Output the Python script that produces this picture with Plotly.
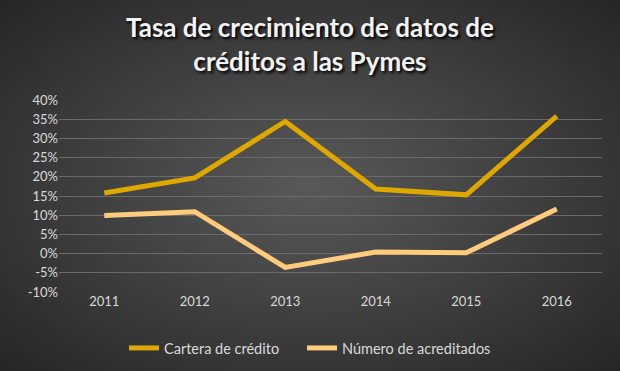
import base64
import plotly.graph_objects as go

years = ["2011", "2012", "2013", "2014", "2015", "2016"]
cartera = [15.8, 19.7, 34.4, 16.8, 15.3, 35.8]
acreditados = [9.9, 10.9, -3.6, 0.4, 0.2, 11.6]
y_ticks = [-10, -5, 0, 5, 10, 15, 20, 25, 30, 35, 40]
y_labels = [f"{v}%" for v in y_ticks]
title_text = "Tasa de crecimiento de datos de<br>créditos a las Pymes"

W, H = 620, 371
ml, mr, mt, mb = 59, 18, 100, 79
pw, ph = W - ml - mr, H - mt - mb

svg = f'''<svg xmlns="http://www.w3.org/2000/svg" width="{W}" height="{H}">
<defs><radialGradient id="g" cx="50%" cy="50%" r="70%">
<stop offset="0%" stop-color="#595959"/><stop offset="100%" stop-color="#262626"/>
</radialGradient></defs><rect width="{W}" height="{H}" fill="url(#g)"/></svg>'''
bg = "data:image/svg+xml;base64," + base64.b64encode(svg.encode()).decode()

fig = go.Figure()
fig.add_trace(go.Scatter(x=years, y=cartera, mode="lines", name="Cartera de crédito",
                         line=dict(color="#DFA800", width=5), legend="legend",
                         showlegend=True))
fig.add_trace(go.Scatter(x=years, y=acreditados, mode="lines", name="Número de acreditados",
                         line=dict(color="#FFCB7C", width=5), legend="legend2",
                         showlegend=True))

leg_common = dict(orientation="h", xref="container", yref="container",
                  y=(H - 348) / H, yanchor="middle", xanchor="left",
                  font=dict(size=14.5, color="#D9D9D9"), bgcolor="rgba(0,0,0,0)",
                  itemwidth=30)

fig.update_layout(
    width=W, height=H, showlegend=True,
    margin=dict(l=ml, r=mr, t=mt, b=mb, autoexpand=False),
    paper_bgcolor="#2e2e2e", plot_bgcolor="rgba(0,0,0,0)",
    font=dict(family="Lato, Open Sans, sans-serif", color="#D9D9D9", size=13),
    xaxis=dict(type="category", range=[-0.5, 5.5], showgrid=False, zeroline=False,
               showline=False, ticks="", tickfont=dict(size=13, color="#D9D9D9")),
    yaxis=dict(range=[-10, 40], tickvals=y_ticks, ticktext=y_labels,
               showgrid=True, gridcolor="#6a6a6a", gridwidth=1, zeroline=False,
               showline=False, ticks="", tickfont=dict(size=13, color="#D9D9D9")),
    legend=dict(x=(124) / W, **leg_common),
    legend2=dict(x=(302) / W, **leg_common),
    annotations=[dict(text=title_text, xref="paper", yref="paper",
                      x=(W / 2 - ml) / pw, y=1 + (mt - 44) / ph,
                      xanchor="center", yanchor="middle", showarrow=False,
                      font=dict(size=26, color="#F2F2F2",
                                family="Lato, Open Sans, sans-serif",
                                weight="bold", shadow="2px 2px 3px #000"))],
    images=[dict(source=bg, xref="paper", yref="paper",
                 x=-ml / pw, y=1 + mt / ph, sizex=W / pw, sizey=H / ph,
                 xanchor="left", yanchor="top", sizing="stretch", layer="below")],
)

fig.write_html("out.html", config={"displayModeBar": False},
               post_script=("document.body.style.margin='0';"
                            "document.body.style.overflow='hidden';"
                            "document.documentElement.style.overflow='hidden';"
                            "document.body.style.background='#2a2a2a';"))
